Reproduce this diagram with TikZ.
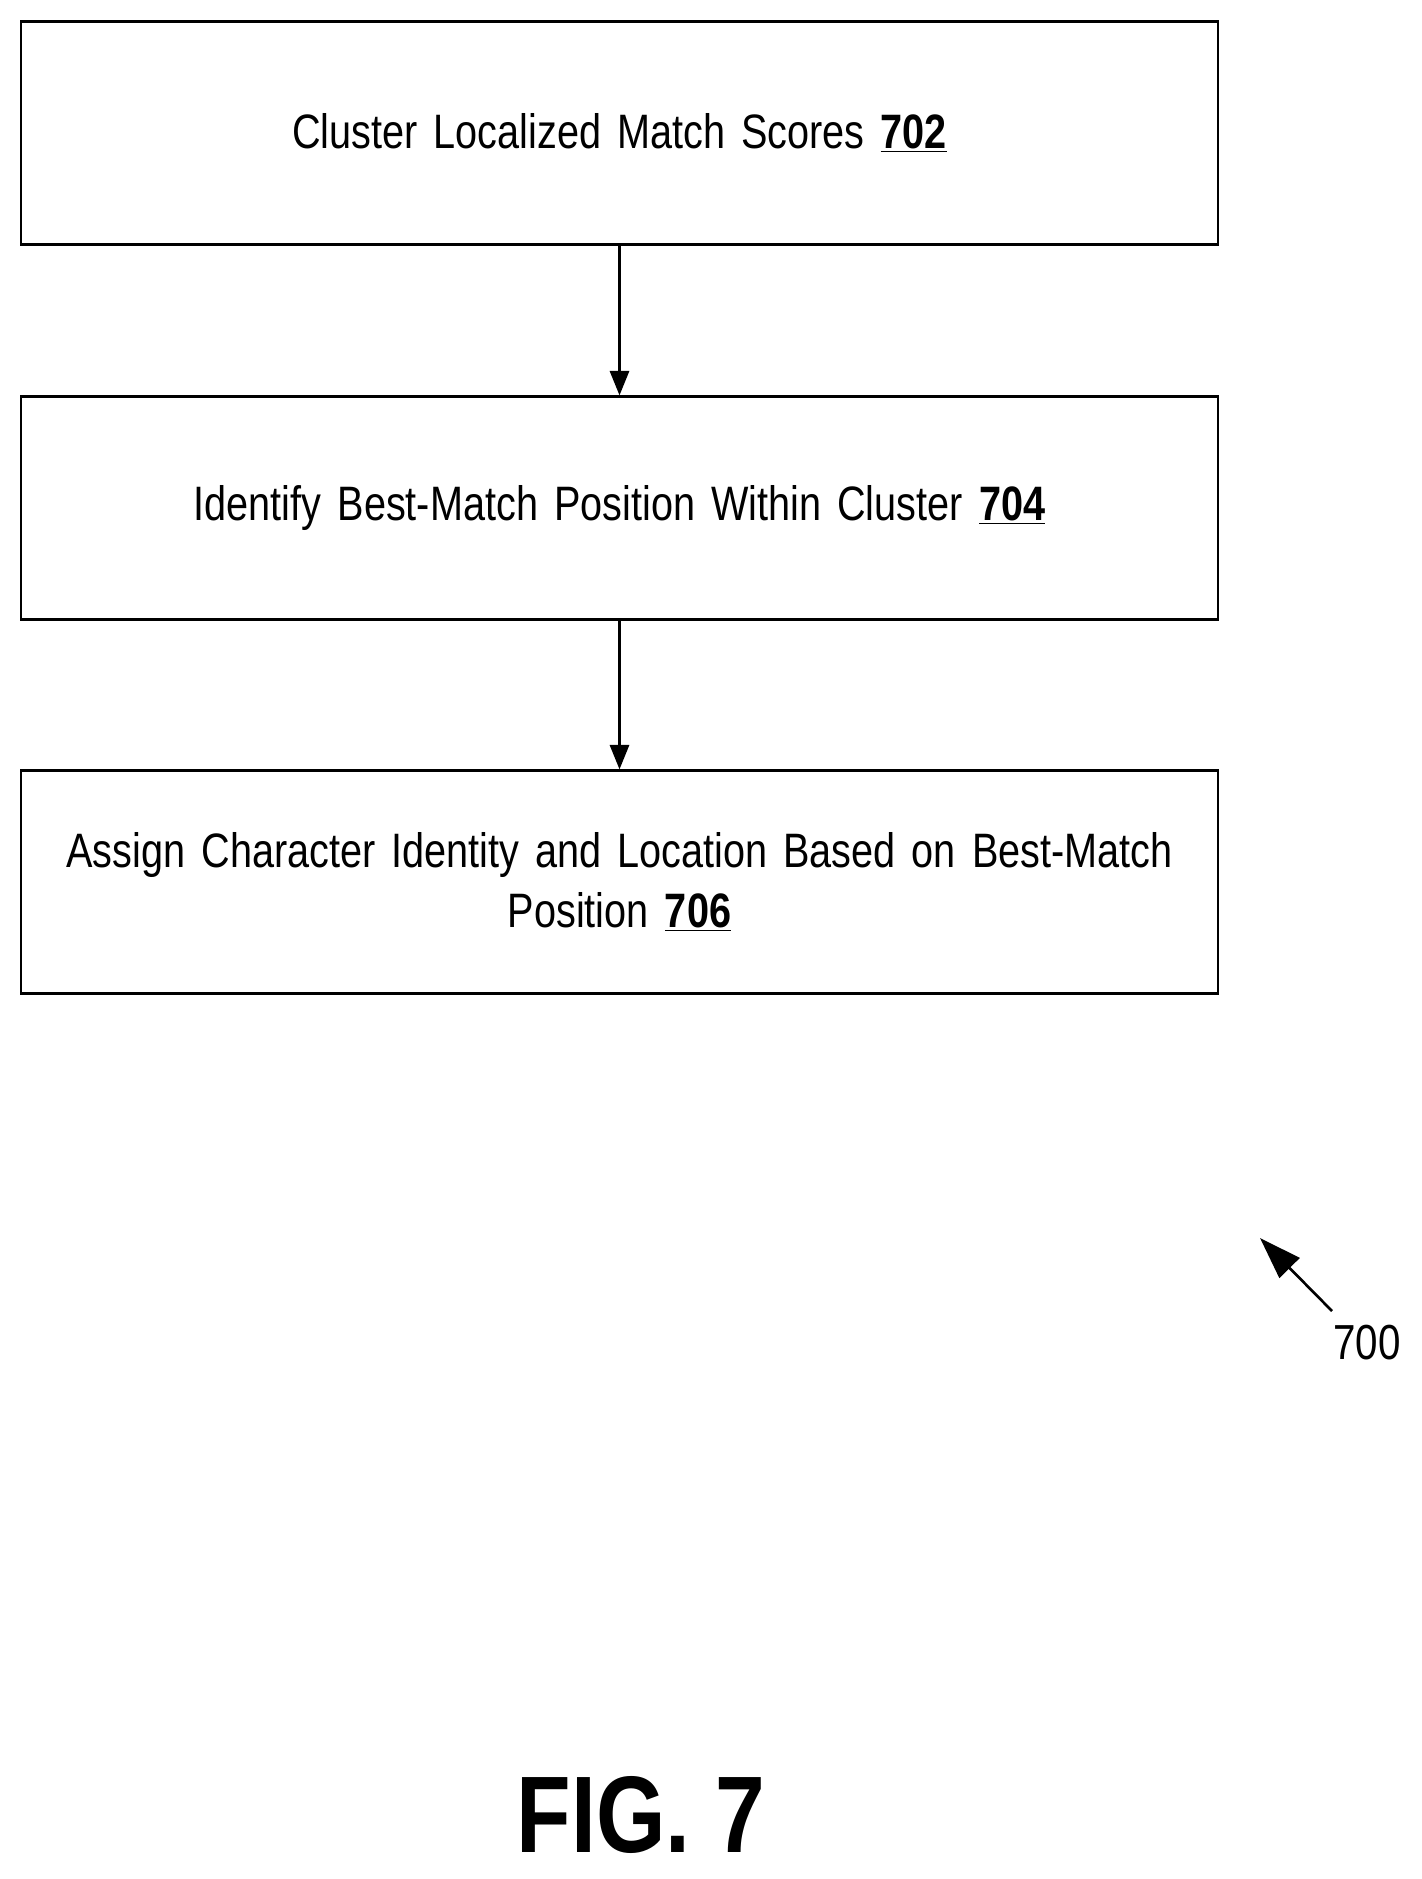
\documentclass[tikz,border=0pt]{standalone}
\usepackage{fontspec}
\setmainfont{Liberation Sans}[FakeStretch=0.82]
\usetikzlibrary{positioning,arrows.meta}
\begin{document}
\begin{tikzpicture}[x=0.02cm,y=-0.02cm,
    flowbox/.style={draw,line width=1.3pt,minimum width=23.94cm,minimum height=4.46cm,
      align=center,text width=23.2cm,font=\fontsize{27.5}{34}\selectfont},
    flow/.style={-{Triangle[length=14pt,width=11pt]},line width=1.3pt}]
    \useasboundingbox (0,0) rectangle (1422,1879);

    \node[flowbox] (s702) at (619.5,133) {Cluster Localized Match Scores \textbf{\underline{702}}};
    \node[flowbox] (s704) at (619.5,508) {Identify Best-Match Position Within Cluster \textbf{\underline{704}}};
    \node[flowbox] (s706) at (619.5,882) {Assign Character Identity and Location Based on Best-Match\\Position \textbf{\underline{706}}};

    \draw[flow] (s702) -- (s704);
    \draw[flow] (s704) -- (s706);

    \node[font=\fontsize{28}{34}\selectfont] (lbl700) at (1367,1343) {700};
    \coordinate (tip700) at (1260,1238);
    \draw[-{Triangle[length=24pt,width=16pt]},line width=1.5pt] (1332,1311) -- (tip700);

    \node[font=\fontsize{62}{66}\bfseries\selectfont] (fig) at (641,1815) {FIG. 7};
\end{tikzpicture}
\end{document}
